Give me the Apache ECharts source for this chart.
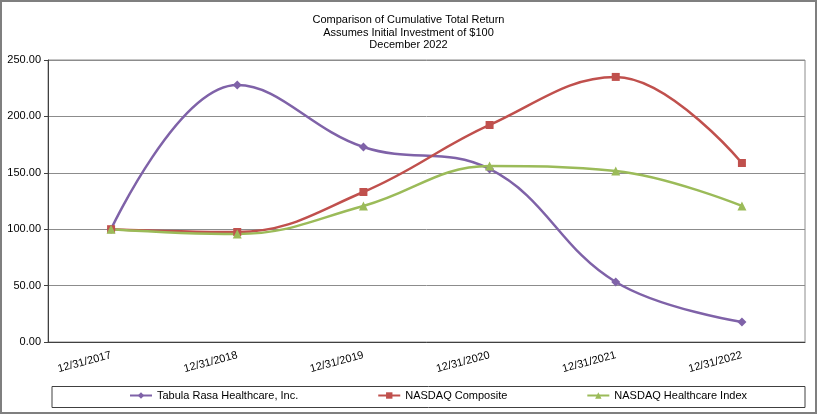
<!DOCTYPE html>
<html><head><meta charset="utf-8">
<script src="https://cdn.jsdelivr.net/npm/echarts@6/dist/echarts.min.js"></script>
<style>
html,body{margin:0;padding:0;background:#fff;}
#c{position:absolute;left:0;top:0;width:817px;height:414px;}
#frame{position:absolute;left:0;top:0;width:813px;height:410px;border:2px solid #7f7f7f;pointer-events:none;}
</style></head>
<body><div id="c"></div><div id="frame"></div>
<script>
const categories = ['12/31/2017','12/31/2018','12/31/2019','12/31/2020','12/31/2021','12/31/2022'];
const tabula = [100, 227.8, 172.9, 153.4, 53.2, 17.7];
const nasdaqComposite = [100, 97.5, 133.0, 192.4, 235.0, 158.7];
const nasdaqHealthcare = [100, 95.7, 120.6, 156.0, 151.6, 120.6];
const seriesNames = ['Tabula Rasa Healthcare, Inc.','NASDAQ Composite','NASDAQ Healthcare Index'];
const yTicks = {min:0, max:250, interval:50};

const font = 'Arial, "Liberation Sans", sans-serif';
const chart = echarts.init(document.getElementById('c'));
function mk(name, data, color, symbol, size){
  return {name, type:'line', data, smooth:0.4, symbol, symbolSize:size,
    lineStyle:{color, width:2.5}, itemStyle:{color}, z: 3};
}
chart.setOption({
  animation:false,
  title:{text:'Comparison of Cumulative Total Return\nAssumes Initial Investment of $100\nDecember 2022',
    left:'center', top:9, textStyle:{fontFamily:font, fontSize:11, fontWeight:'normal', color:'#000', lineHeight:12.5}},
  grid:{left:48, right:12, top:60, bottom:72, show:true, borderColor:'#8c8c8c', borderWidth:1},
  graphic:[{type:'rect', shape:{x:52, y:386.5, width:753, height:21},
    style:{fill:'none', stroke:'#404040', lineWidth:1}, silent:true}],
  legend:{top:390, left:129, data:seriesNames,
    orient:'horizontal', itemGap:79, itemWidth:22, itemHeight:8, padding:0,
    textStyle:{fontFamily:font, fontSize:11, color:'#000'}},
  xAxis:{type:'category', data:categories, boundaryGap:true,
    axisLine:{lineStyle:{color:'#404040'}},
    axisTick:{alignWithLabel:true, inside:true, length:3, lineStyle:{color:'#404040'}},
    axisLabel:{rotate:15, fontFamily:font, fontSize:11, color:'#000', margin:13}},
  yAxis:{type:'value', min:yTicks.min, max:yTicks.max, interval:yTicks.interval,
    axisLine:{show:true, lineStyle:{color:'#404040'}},
    axisTick:{show:true, length:4, lineStyle:{color:'#404040'}},
    splitLine:{lineStyle:{color:'#8c8c8c', width:1}},
    axisLabel:{formatter:v=>v.toFixed(2), fontFamily:font, fontSize:11, color:'#000', margin:7}},
  series:[
    mk(seriesNames[0], tabula, '#7f62a8', 'diamond', 9),
    mk(seriesNames[1], nasdaqComposite, '#c0504d', 'rect', 8),
    mk(seriesNames[2], nasdaqHealthcare, '#9bbb59', 'triangle', 9)
  ]
});
</script></body></html>
